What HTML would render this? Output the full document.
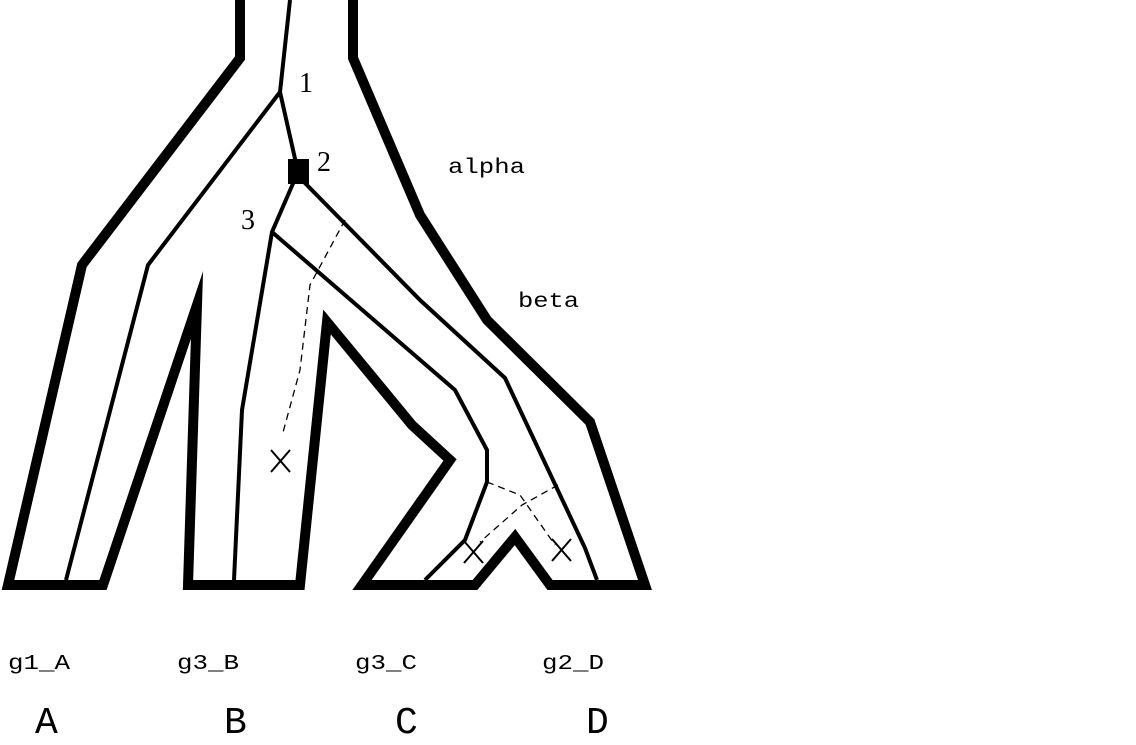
<!DOCTYPE html>
<html><head><meta charset="utf-8"><style>
html,body{margin:0;padding:0;background:#fff;}
svg{display:block;}
</style></head><body>
<svg width="1136" height="745" viewBox="0 0 1136 745" xmlns="http://www.w3.org/2000/svg">
<rect width="1136" height="745" fill="#fff"/>
<g fill="none" stroke="#000" stroke-linejoin="miter" stroke-miterlimit="10">
<path stroke-width="10" d="M240,0 L240,58 L82,265 L8,585 L103,585 L197,305 L188,585 L300,585 L327,322 L412,425 L450,460 L362,585 L475,585 L515,537 L550,585 L645,585 L590,422 L487,320 L420,215 L353,58 L353,0"/>
<g stroke-width="4">
<path d="M290,0 L280,92 L298,172"/>
<path d="M280,92 L148,265 L66,580"/>
<path d="M298,172 L272,232 L242,410 L234,580"/>
<path d="M272,232 L455,390 L487,450 L487,482 L465,540 L425,580"/>
<path d="M300,178 L420,300 L505,378 L585,548 L597,580"/>
</g>
<g stroke-width="1.3" stroke-dasharray="7,5">
<path d="M345,220 L310,285 L300,370 L282,436"/>
<path d="M487,482 L520,495 L555,545"/>
<path d="M558,485 L522,505 L480,542"/>
</g>
<g stroke-width="2">
<path d="M271,450 L290,472 M290,450 L271,472"/>
<path d="M464,541 L483,563 M483,541 L464,563"/>
<path d="M552,539 L571,561 M571,539 L552,561"/>
</g>
</g>
<rect x="288" y="159" width="21" height="25" fill="#000"/>
<g font-family="Liberation Serif, serif" font-size="28" fill="#000">
<text x="299" y="92">1</text>
<text x="317" y="171">2</text>
<text x="241" y="229">3</text>
</g>
<g font-family="Liberation Mono, monospace" font-size="21" fill="#000" lengthAdjust="spacingAndGlyphs">
<text x="448" y="173" textLength="77" lengthAdjust="spacingAndGlyphs">alpha</text>
<text x="518" y="307" textLength="61" lengthAdjust="spacingAndGlyphs">beta</text>
<text x="8" y="669" textLength="62" lengthAdjust="spacingAndGlyphs">g1_A</text>
<text x="177" y="669" textLength="62" lengthAdjust="spacingAndGlyphs">g3_B</text>
<text x="355" y="669" textLength="62" lengthAdjust="spacingAndGlyphs">g3_C</text>
<text x="542" y="669" textLength="62" lengthAdjust="spacingAndGlyphs">g2_D</text>
</g>
<g font-family="Liberation Mono, monospace" font-size="38" fill="#000">
<text x="35" y="733">A</text>
<text x="224" y="733">B</text>
<text x="395" y="733">C</text>
<text x="586" y="733">D</text>
</g>
</svg>
</body></html>
